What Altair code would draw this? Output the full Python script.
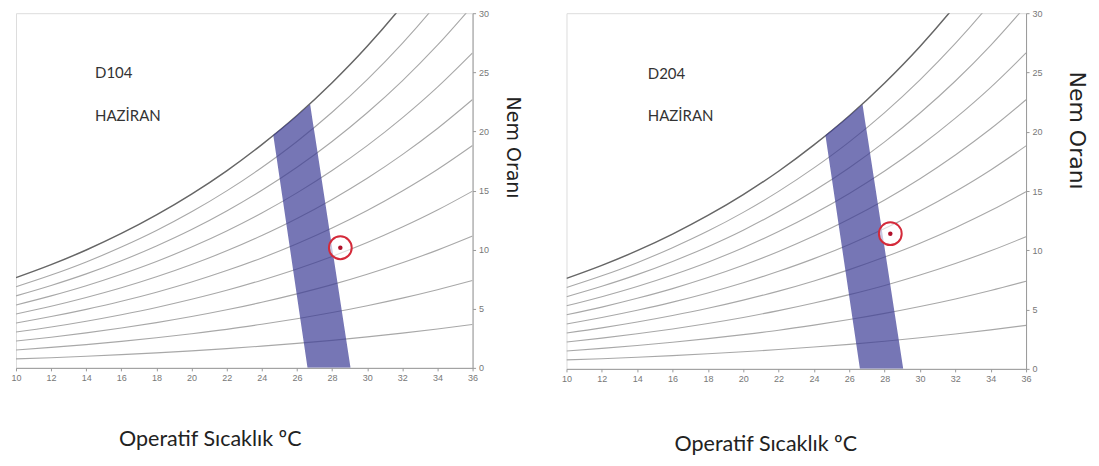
import altair as alt
import pandas as pd

# Dry-bulb / operative temperature grid (°C)
temps = [10, 12, 14, 16, 18, 20, 22, 24, 26, 28, 30, 32, 34, 36]

# Humidity ratio (g/kg) of each relative-humidity curve
rh10 = [0.76, 0.86, 0.98, 1.12, 1.27, 1.44, 1.63, 1.84, 2.07, 2.33, 2.62, 2.94, 3.29, 3.67]
rh20 = [1.51, 1.73, 1.97, 2.24, 2.55, 2.89, 3.26, 3.69, 4.16, 4.68, 5.26, 5.90, 6.61, 7.39]
rh30 = [2.27, 2.59, 2.96, 3.37, 3.83, 4.34, 4.91, 5.55, 6.26, 7.04, 7.92, 8.89, 9.96, 11.15]
rh40 = [3.03, 3.46, 3.95, 4.50, 5.11, 5.80, 6.56, 7.42, 8.37, 9.43, 10.60, 11.91, 13.35, 14.95]
rh50 = [3.79, 4.34, 4.95, 5.63, 6.40, 7.26, 8.23, 9.30, 10.50, 11.83, 13.31, 14.96, 16.78, 18.81]
rh60 = [4.56, 5.21, 5.95, 6.77, 7.70, 8.74, 9.90, 11.20, 12.64, 14.25, 16.04, 18.04, 20.25, 22.70]
rh70 = [5.32, 6.09, 6.95, 7.92, 9.00, 10.22, 11.58, 13.10, 14.80, 16.69, 18.80, 21.15, 23.75, 26.65]
rh80 = [6.09, 6.97, 7.95, 9.06, 10.31, 11.70, 13.27, 15.02, 16.97, 19.15, 21.58, 24.28, 27.29, 30.64]
rh90 = [6.86, 7.85, 8.96, 10.22, 11.62, 13.20, 14.97, 16.95, 19.15, 21.62, 24.38, 27.45, 30.87, 34.69]
rh100 = [7.63, 8.73, 9.97, 11.37, 12.94, 14.70, 16.67, 18.89, 21.35, 24.12, 27.20, 30.65, 34.49, 38.78]

# Comfort zone (horizontal band: for each humidity ratio, left and right temperature)
zone_w = [0.0, 19.7, 20.9, 22.3]
zone_tl = [26.6, 24.65, 25.65, 26.75]
zone_tr = [29.05, 27.02, 26.89, 26.75]

# Measured points
rooms = ["D104", "D204"]
months = ["HAZİRAN", "HAZİRAN"]
pt_t = [28.47, 28.32]
pt_w = [10.16, 11.4]

x_ticks = list(range(10, 37, 2))
y_ticks = [0, 5, 10, 15, 20, 25, 30]

curves = {"10": rh10, "20": rh20, "30": rh30, "40": rh40, "50": rh50,
          "60": rh60, "70": rh70, "80": rh80, "90": rh90}
rows = []
for k, vals in curves.items():
    for t, w in zip(temps, vals):
        rows.append({"rh": k, "t": t, "w": w})
curve_df = pd.DataFrame(rows)
sat_df = pd.DataFrame({"t": temps, "w": rh100})
zone_df = pd.DataFrame({"w": zone_w, "tl": zone_tl, "tr": zone_tr})

xs = alt.Scale(domain=[10, 36], nice=False, zero=False)
ys = alt.Scale(domain=[0, 30], nice=False)


def panel(i, width, height, ytx, yty, yfs, xtx, xty, tx):
    xax = alt.Axis(values=x_ticks, grid=False, labelFontSize=9, labelColor="#777",
                   labelFont="Liberation Sans", domainColor="#999", tickColor="#999",
                   tickSize=3, labelPadding=3, labelOverlap=False, labelBound=False,
                   labelFlush=False,
                   title="Operatif Sıcaklık ºC", titleFont="Lato", titleFontSize=21.5,
                   titleFontWeight="normal", titleColor="#222",
                   titleX=xtx, titleY=xty, titleAlign="center", titleBaseline="middle")
    yax = alt.Axis(orient="right", values=y_ticks, grid=False, labelFontSize=9,
                   labelColor="#777", labelFont="Liberation Sans", domainColor="#999",
                   tickColor="#999", tickSize=3, labelPadding=3, labelOverlap=False,
                   labelBound=False, labelFlush=False,
                   title="Nem Oranı", titleFont="DejaVu Sans", titleFontSize=yfs,
                   titleFontWeight="normal", titleColor="#222", titleAngle=90,
                   titleX=ytx, titleY=yty, titleAlign="center", titleBaseline="middle")

    def X(f):
        return alt.X(f, scale=xs, axis=xax)

    def Y(f):
        return alt.Y(f, scale=ys, axis=yax)

    lines = alt.Chart(curve_df).mark_line(color="#a8a8a8", strokeWidth=1.1, clip=True,
                                          interpolate="monotone").encode(
        x=X("t:Q"), y=Y("w:Q"), detail="rh:N")
    sat = alt.Chart(sat_df).mark_line(color="#666", strokeWidth=1.5, clip=True,
                                      interpolate="monotone").encode(
        x=X("t:Q"), y=Y("w:Q"))
    zone = alt.Chart(zone_df).mark_area(orient="horizontal", color="#3c3c96",
                                        opacity=0.7, clip=True).encode(
        y=Y("w:Q"), x=X("tl:Q"), x2="tr:Q")
    pdf = pd.DataFrame({"t": [pt_t[i]], "w": [pt_w[i]]})
    ring = alt.Chart(pdf).mark_point(shape="circle", size=520, filled=True,
                                     fill="white", fillOpacity=0.6, stroke="#d42a3a",
                                     strokeWidth=2, opacity=1).encode(
        x=X("t:Q"), y=Y("w:Q"))
    dot = alt.Chart(pdf).mark_point(shape="circle", size=20, filled=True,
                                    color="#b0102a", opacity=1).encode(
        x=X("t:Q"), y=Y("w:Q"))
    tdf = pd.DataFrame({"t": [tx, tx], "w": [24.9, 21.3],
                        "s": [rooms[i], months[i]]})
    txt = alt.Chart(tdf).mark_text(align="left", baseline="middle", font="Lato",
                                   fontSize=15, color="#333").encode(
        x=X("t:Q"), y=Y("w:Q"), text="s:N")
    return alt.layer(lines, sat, zone, ring, dot, txt).properties(width=width, height=height)


left = panel(0, 457, 355, 39.5, 134, 19, 194, 72, 14.5)
right = panel(1, 460, 356, 50, 117, 22, 199, 76, 14.6)

chart = alt.hconcat(left, right, spacing=39).configure_view(strokeWidth=0).configure(
    background="white", padding={"left": 2, "top": 0, "right": 3, "bottom": 0})

chart.save("out.html", embed_options={"renderer": "svg", "actions": False})
